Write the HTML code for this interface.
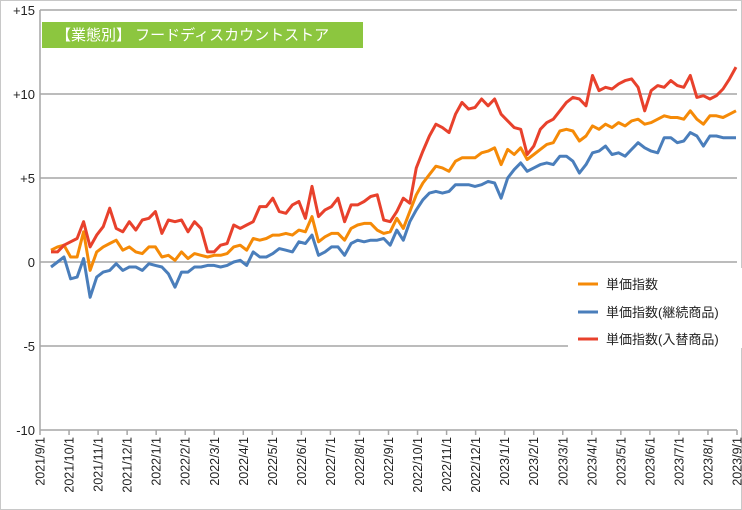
<!DOCTYPE html>
<html><head><meta charset="utf-8"><style>
body{margin:0;background:#fff;}
svg{display:block;font-family:"Liberation Sans","Noto Sans CJK JP",sans-serif;}
</style></head><body>
<svg width="742" height="510">
<rect x="0.5" y="0.5" width="741" height="509" fill="#fff" stroke="#c8c8c8"/>
<g id="grid"></g>
<g id="yt"></g>
<g id="xt"></g>
<g id="lines"></g>
<rect x="42" y="22" width="321" height="26" fill="#8cc63f"/>
<text x="56" y="40" font-size="15" fill="#fff">【業態別】 フードディスカウントストア</text>
<g>
<rect x="568" y="268" width="174" height="80" fill="#fff"/>
<line x1="578" y1="284" x2="598" y2="284" stroke="#f58a07" stroke-width="3"/>
<text x="606" y="289" font-size="13" fill="#222">単価指数</text>
<line x1="578" y1="312" x2="598" y2="312" stroke="#4a7ebb" stroke-width="3"/>
<text x="606" y="317" font-size="13" fill="#222">単価指数(継続商品)</text>
<line x1="578" y1="339" x2="598" y2="339" stroke="#e8412c" stroke-width="3"/>
<text x="606" y="344" font-size="13" fill="#222">単価指数(入替商品)</text>
</g>
</svg>
<script>
const yTicks=[15,10,5,0,-5,-10];
const yTickLabels=["+15","+10","+5","0","-5","-10"];
const xTickLabels=["2021/9/1","2021/10/1","2021/11/1","2021/12/1","2022/1/1","2022/2/1","2022/3/1","2022/4/1","2022/5/1","2022/6/1","2022/7/1","2022/8/1","2022/9/1","2022/10/1","2022/11/1","2022/12/1","2023/1/1","2023/2/1","2023/3/1","2023/4/1","2023/5/1","2023/6/1","2023/7/1","2023/8/1","2023/9/1"];
const priceIndex=[0.7,0.9,1.0,0.3,0.3,1.8,-0.5,0.6,0.9,1.1,1.3,0.7,0.9,0.6,0.5,0.9,0.9,0.3,0.4,0.1,0.6,0.2,0.5,0.4,0.3,0.4,0.4,0.5,0.9,1.0,0.7,1.4,1.3,1.4,1.6,1.6,1.7,1.6,1.9,1.8,2.7,1.2,1.5,1.7,1.7,1.3,2.0,2.2,2.3,2.3,1.9,1.7,1.8,2.6,2.0,3.0,4.0,4.7,5.2,5.7,5.6,5.4,6.0,6.2,6.2,6.2,6.5,6.6,6.8,5.8,6.7,6.4,6.8,6.1,6.4,6.7,7.0,7.1,7.8,7.9,7.8,7.2,7.5,8.1,7.9,8.2,8.0,8.3,8.1,8.4,8.5,8.2,8.3,8.5,8.7,8.6,8.6,8.5,9.0,8.5,8.2,8.7,8.7,8.6,8.8,9.0];
const continuingIndex=[-0.3,0.0,0.3,-1.0,-0.9,0.2,-2.1,-0.9,-0.6,-0.5,-0.1,-0.5,-0.3,-0.3,-0.5,-0.1,-0.2,-0.3,-0.7,-1.5,-0.6,-0.6,-0.3,-0.3,-0.2,-0.2,-0.3,-0.2,0.0,0.1,-0.2,0.6,0.3,0.3,0.5,0.8,0.7,0.6,1.2,1.1,1.6,0.4,0.6,0.9,0.9,0.4,1.1,1.3,1.2,1.3,1.3,1.4,1.0,1.9,1.3,2.4,3.1,3.7,4.1,4.2,4.1,4.2,4.6,4.6,4.6,4.5,4.6,4.8,4.7,3.8,5.0,5.5,5.9,5.4,5.6,5.8,5.9,5.8,6.3,6.3,6.0,5.3,5.8,6.5,6.6,6.9,6.4,6.5,6.3,6.7,7.1,6.8,6.6,6.5,7.4,7.4,7.1,7.2,7.7,7.5,6.9,7.5,7.5,7.4,7.4,7.4];
const replacedIndex=[0.6,0.6,1.0,1.2,1.4,2.4,0.9,1.6,2.1,3.2,2.0,1.8,2.4,1.9,2.5,2.6,3.0,1.7,2.5,2.4,2.5,1.8,2.4,2.0,0.6,0.6,1.0,1.1,2.2,2.0,2.2,2.4,3.3,3.3,3.8,3.0,2.9,3.4,3.6,2.6,4.5,2.7,3.1,3.3,3.8,2.4,3.4,3.4,3.6,3.9,4.0,2.5,2.4,3.0,3.8,3.5,5.6,6.6,7.5,8.2,8.0,7.7,8.8,9.5,9.1,9.2,9.7,9.3,9.7,8.8,8.4,8.0,7.9,6.4,6.9,7.9,8.3,8.5,9.0,9.5,9.8,9.7,9.3,11.1,10.2,10.4,10.3,10.6,10.8,10.9,10.4,9.0,10.2,10.5,10.4,10.8,10.5,10.4,11.1,9.8,9.9,9.7,9.9,10.3,10.9,11.6];

const NS="http://www.w3.org/2000/svg";
const X0=40,X1=737,Y0=10,Y1=430;
function yScale(v){return Y0+(15-v)*(Y1-Y0)/25;}
function xMonth(i){return X0+i*(X1-X0)/(xTickLabels.length-1);}
function xIdx(i,n){return 51+i*(736-51)/(n-1);}
function mk(tag,attrs,parent){const e=document.createElementNS(NS,tag);for(const k in attrs)e.setAttribute(k,attrs[k]);parent.appendChild(e);return e;}
const grid=document.getElementById('grid'),yt=document.getElementById('yt'),xt=document.getElementById('xt'),lines=document.getElementById('lines');
yTicks.forEach((v,i)=>{
  const l=mk('line',{x1:X0,x2:X1,y1:yScale(v),y2:yScale(v),stroke:'#a6a6a6','stroke-width':1.5},grid);
  
  
  const t=mk('text',{x:35,y:yScale(v)+5,'text-anchor':'end','font-size':13,fill:'#222'},yt);
  t.textContent=yTickLabels[i];
  
  
});
const ax=mk('line',{x1:X0,x2:X0,y1:Y0,y2:Y1,stroke:'#a6a6a6','stroke-width':1.5},grid);


xTickLabels.forEach((s,i)=>{
  const x=xMonth(i);
  const tk=mk('line',{x1:x,x2:x,y1:Y1,y2:Y1+5,stroke:'#a6a6a6','stroke-width':1.5},grid);
  
  
  const t=mk('text',{x:0,y:0,'text-anchor':'end','font-size':12.5,fill:'#222',transform:`translate(${x+4.5},437) rotate(-90)`},xt);
  t.textContent=s;
  
  
});
function draw(arr,color,name){
  const d=arr.map((v,i)=>(i?'L':'M')+xIdx(i,arr.length).toFixed(1)+','+yScale(v).toFixed(1)).join('');
  const p=mk('path',{d:d,fill:'none',stroke:color,'stroke-width':3,'stroke-linejoin':'round'},lines);
  
  
}
draw(continuingIndex,'#4a7ebb','line-continuing');
draw(priceIndex,'#f58a07','line-price');
draw(replacedIndex,'#e8412c','line-replaced');
</script>
</body></html>
